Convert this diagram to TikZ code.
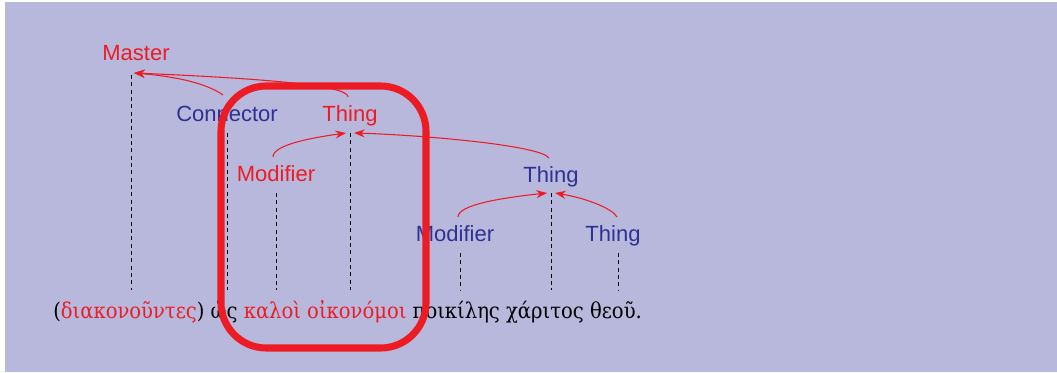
\documentclass[tikz,border=0pt]{standalone}
\usepackage{fontspec}
\setmainfont{DejaVu Serif Condensed}
\setsansfont{Liberation Sans}
\usetikzlibrary{arrows.meta}
\definecolor{bg}{RGB}{184,184,220}
\definecolor{rd}{RGB}{237,28,36}
\definecolor{bl}{RGB}{46,49,146}
\tikzset{
  lab/.style={font=\sffamily\fontsize{16.5}{16.5}\selectfont, inner sep=0pt, anchor=base},
  redlab/.style={lab, text=rd},
  bluelab/.style={lab, text=bl},
  stem/.style={dashed, dash pattern=on 3pt off 2.5pt, line width=0.6pt, black},
  rel/.style={draw=rd, line width=0.8pt, -{Stealth[length=8pt,width=6pt]}},
  word/.style={font=\fontsize{16.3}{16.3}\selectfont, inner sep=0pt, anchor=base west},
}
\begin{document}
\begin{tikzpicture}[x=0.75pt,y=-0.75pt]
\useasboundingbox (0,0) rectangle (1057,372);
\fill[bg] (5,2) rectangle (1057,372);
% labels
\node[redlab] (master) at (136,60) {Master};
\node[bluelab] (conn) at (227,121) {Connector};
\node[redlab] (thing1) at (350,121) {Thing};
\node[redlab] (mod1) at (276,181) {Modifier};
\node[bluelab] (thing2) at (551,182) {Thing};
\node[bluelab] (mod2) at (455,241) {Modifier};
\node[bluelab] (thing3) at (613,241) {Thing};
% stem coordinates
\coordinate (mT) at (131,75); \coordinate (mB) at (131,290);
\coordinate (cT) at (227,133); \coordinate (cB) at (227,290);
\coordinate (t1T) at (350,133); \coordinate (t1B) at (350,290);
\coordinate (m1T) at (276,193); \coordinate (m1B) at (276,290);
\coordinate (t2T) at (551,193); \coordinate (t2B) at (551,290);
\coordinate (m2T) at (460,253); \coordinate (m2B) at (460,290);
\coordinate (t3T) at (618,253); \coordinate (t3B) at (618,290);
\foreach \a in {m,c,t1,m1,t2,m2,t3} \draw[stem] (\a T) -- (\a B);
% arrow endpoints
\coordinate (mA) at (134,73);
\coordinate (t1L) at (346,133); \coordinate (t1R) at (354,133);
\coordinate (t2L) at (547,193); \coordinate (t2R) at (555,193);
\coordinate (thing1s) at (348,97);
\coordinate (conns) at (223,95);
\coordinate (mod1s) at (273,157);
\coordinate (thing2s) at (549,158);
\coordinate (mod2s) at (458,217);
\coordinate (thing3s) at (617,217);
\draw[rel] (thing1s) .. controls (348,88) and (300,80) .. (mA);
\draw[rel] (conns) .. controls (205,82) and (170,76) .. (mA);
\draw[rel] (mod1s) .. controls (273,145) and (310,138) .. (t1L);
\draw[rel] (thing2s) .. controls (540,145) and (420,135) .. (t1R);
\draw[rel] (mod2s) .. controls (458,205) and (500,198) .. (t2L);
\draw[rel] (thing3s) .. controls (612,208) and (585,198) .. (t2R);
% sentence
\node[word] (w1) at (53,318) {(\textcolor{rd}{διακονοῦντες}) ὡς \textcolor{rd}{καλοὶ οἰκονόμοι} ποικίλης χάριτος θεοῦ.};
% highlight box
\draw[rd, line width=5.3pt, rounded corners=34] (221,86) rectangle (426,348);
\end{tikzpicture}
\end{document}
